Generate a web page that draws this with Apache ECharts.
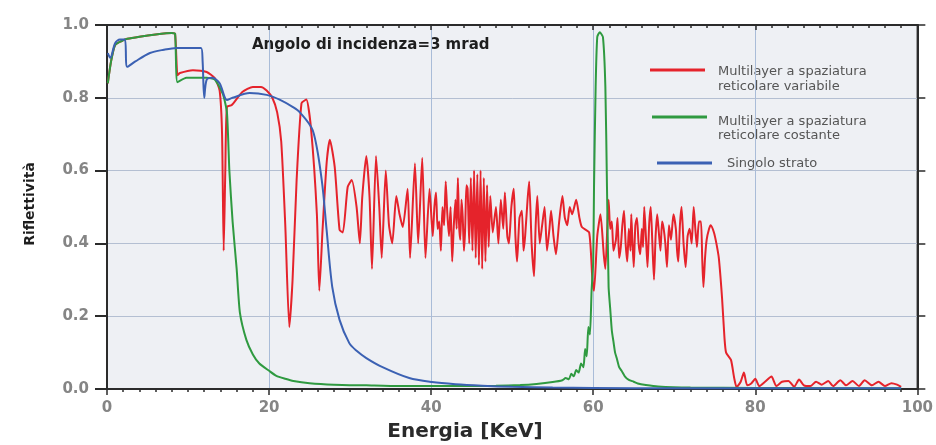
<!DOCTYPE html>
<html>
<head>
<meta charset="utf-8">
<script src="https://cdn.jsdelivr.net/npm/echarts@6/dist/echarts.min.js"></script>
<style>
html,body{margin:0;padding:0;background:#ffffff;}
#c{width:936px;height:445px;}
</style>
</head>
<body>
<div id="c"></div>
<script>
// ---- data ----
var xTicks = [0, 20, 40, 60, 80, 100];
var yTicks = [0.0, 0.2, 0.4, 0.6, 0.8, 1.0];

var redX = [0.1,0.5,1.0,1.8,2.5,4,6,8.0,8.4,8.7,9.0,10.6,12.3,13.3,13.9,14.2,14.4,14.6,14.8,15.4,16.7,18.0,19.0,19.7,20.4,21.0,21.5,22.0,22.5,22.9,23.4,24.0,24.6,25.2,25.9,26.2,26.6,27.1,27.5,28.1,28.7,29.1,29.7,30.2,30.8,31.2,31.5,32.0,32.4,32.7,33.2,33.6,33.9,34.4,34.8,35.2,35.7,36.1,36.5,37.1,37.4,38.0,38.4,38.9,39.3,39.8,40.2,40.4,40.6,40.8,41.0,41.2,41.4,41.6,41.8,42.0,42.2,42.4,42.6,42.8,43.0,43.15,43.3,43.45,43.6,43.75,43.9,44.05,44.2,44.35,44.5,44.7,44.9,45.1,45.3,45.5,45.7,45.9,46.1,46.3,46.5,46.7,46.9,47.1,47.3,47.6,48.0,48.3,48.6,48.9,49.1,49.4,49.6,49.9,50.2,50.4,50.6,50.9,51.2,51.4,51.6,51.9,52.1,52.4,52.7,52.9,53.1,53.4,53.7,54.0,54.3,54.6,54.8,55.1,55.4,55.8,56.2,56.5,56.8,57.1,57.4,57.9,58.3,58.6,59.5,59.9,60.1,60.5,60.9,61.3,61.5,61.9,62.1,62.3,62.5,62.8,63.0,63.2,63.4,63.6,63.8,64.0,64.2,64.4,64.6,64.7,64.85,65.0,65.2,65.4,65.6,65.8,66.0,66.15,66.3,66.5,66.7,66.9,67.1,67.3,67.5,67.7,67.9,68.1,68.3,68.5,68.7,68.9,69.1,69.35,69.6,69.9,70.2,70.35,70.5,70.7,70.9,71.15,71.4,71.65,71.9,72.15,72.4,72.6,72.8,73.05,73.3,73.45,73.6,73.8,74.0,74.3,74.5,74.9,75.2,75.5,75.9,76.2,76.4,77.0,77.4,77.7,78.2,78.6,79.0,79.5,80.0,80.5,81.2,82.0,82.6,83.3,84.1,84.8,85.4,86.0,86.8,87.5,88.2,89.0,89.6,90.5,91.2,92.0,92.8,93.5,94.4,95.2,96.0,96.8,97.5,98.0];
var redY = [0.84,0.90,0.945,0.956,0.962,0.968,0.974,0.978,0.976,0.862,0.868,0.876,0.871,0.854,0.82,0.70,0.38,0.60,0.775,0.78,0.816,0.83,0.83,0.82,0.80,0.76,0.68,0.45,0.17,0.30,0.574,0.785,0.795,0.71,0.48,0.27,0.437,0.62,0.685,0.61,0.437,0.43,0.555,0.574,0.50,0.40,0.527,0.64,0.527,0.33,0.64,0.50,0.36,0.60,0.45,0.40,0.53,0.48,0.445,0.55,0.36,0.62,0.40,0.635,0.36,0.55,0.42,0.50,0.54,0.44,0.46,0.38,0.50,0.45,0.57,0.48,0.42,0.50,0.35,0.45,0.52,0.44,0.58,0.45,0.41,0.52,0.47,0.38,0.44,0.56,0.55,0.40,0.58,0.38,0.60,0.36,0.59,0.34,0.60,0.33,0.58,0.35,0.56,0.39,0.53,0.43,0.50,0.40,0.52,0.44,0.54,0.42,0.40,0.50,0.55,0.42,0.35,0.47,0.49,0.38,0.42,0.52,0.57,0.40,0.31,0.45,0.53,0.40,0.45,0.50,0.38,0.44,0.49,0.42,0.37,0.46,0.53,0.47,0.45,0.50,0.48,0.52,0.47,0.445,0.43,0.30,0.27,0.42,0.48,0.37,0.33,0.52,0.44,0.46,0.38,0.41,0.47,0.36,0.39,0.45,0.49,0.40,0.35,0.44,0.38,0.48,0.40,0.335,0.45,0.47,0.40,0.37,0.44,0.39,0.50,0.42,0.335,0.45,0.50,0.40,0.30,0.42,0.48,0.43,0.38,0.46,0.44,0.40,0.335,0.45,0.41,0.48,0.44,0.38,0.35,0.45,0.50,0.40,0.335,0.42,0.44,0.40,0.50,0.44,0.39,0.46,0.46,0.36,0.28,0.36,0.41,0.44,0.45,0.43,0.40,0.36,0.25,0.14,0.10,0.08,0.03,0.005,0.02,0.045,0.01,0.015,0.028,0.008,0.02,0.034,0.008,0.02,0.022,0.006,0.026,0.01,0.008,0.02,0.012,0.022,0.008,0.024,0.01,0.022,0.008,0.024,0.01,0.02,0.008,0.016,0.012,0.006];

var greenX = [0.1,0.5,1.0,1.8,2.5,4,6,8.0,8.4,8.7,9.8,12.3,13.3,14.3,14.8,15.1,15.5,16.0,16.4,17.2,18.0,18.8,20.0,20.9,22,23,25,28,32,36,40,44,48,51,53,55,56.2,56.6,57.0,57.3,57.6,57.9,58.2,58.5,58.8,59.0,59.2,59.4,59.6,59.8,60.0,60.1,60.3,60.5,60.8,61.2,61.5,61.7,61.9,62.1,62.3,62.5,62.7,62.9,63.2,63.5,63.9,64.4,65.0,65.5,66.5,68,72,80,90,98];
var greenY = [0.84,0.90,0.945,0.956,0.962,0.968,0.974,0.978,0.976,0.843,0.855,0.855,0.85,0.81,0.76,0.60,0.46,0.33,0.21,0.135,0.095,0.07,0.05,0.036,0.028,0.022,0.016,0.012,0.01,0.008,0.008,0.008,0.009,0.011,0.014,0.019,0.024,0.03,0.027,0.042,0.035,0.052,0.045,0.07,0.06,0.11,0.09,0.17,0.15,0.27,0.35,0.555,0.83,0.967,0.98,0.967,0.83,0.555,0.28,0.22,0.16,0.13,0.10,0.085,0.06,0.05,0.035,0.025,0.02,0.015,0.011,0.007,0.004,0.003,0.002,0.002];

var blueX = [0.1,0.4,1.0,1.6,2.2,2.5,3.5,5.3,7.0,8.6,10.0,11.6,11.8,12.0,12.3,13.0,13.9,14.8,15.5,17.6,19.7,21.3,22.9,23.8,25.4,26.5,27.1,27.8,28.7,29.9,30.8,32.0,34.0,37.3,40.1,43,46.3,50,55,60,70,80,90,98];
var blueY = [0.923,0.91,0.95,0.96,0.96,0.885,0.90,0.923,0.932,0.937,0.937,0.937,0.90,0.80,0.85,0.855,0.84,0.794,0.80,0.813,0.808,0.795,0.775,0.76,0.71,0.574,0.437,0.28,0.19,0.126,0.105,0.085,0.06,0.03,0.019,0.013,0.009,0.006,0.004,0.003,0.002,0.002,0.002,0.002];

var legendNames = [["Multilayer a spaziatura","reticolare variabile"],["Multilayer a spaziatura","reticolare costante"],["Singolo strato"]];
var seriesColors = ['#e5232b','#2f9a40','#3b61b3'];

function pairs(xs, ys){ var o=[]; for(var i=0;i<xs.length;i++){o.push([xs[i],ys[i]]);} return o; }

var chart = echarts.init(document.getElementById('c'), null, {renderer:'canvas'});
var FONT = 'DejaVu Sans';
var axisDark = '#2b2b2b';

var option = {
  backgroundColor: '#ffffff',
  animation: false,
  grid: {left:107, right:18, top:25, bottom:56, show:true, backgroundColor:'#eef0f4', borderColor:axisDark, borderWidth:1.5},
  xAxis: [{
    type:'value', min:0, max:100, interval:20, position:'bottom',
    axisLine:{show:true, onZero:false, lineStyle:{color:axisDark, width:2}},
    axisTick:{show:true, length:6, lineStyle:{color:axisDark, width:1.5}},
    minorTick:{show:true, splitNumber:10, length:3, lineStyle:{color:axisDark, width:1.5}},
    axisLabel:{color:'#858585', fontFamily:FONT, fontWeight:'bold', fontSize:15, margin:12,
      formatter:function(v){ return xTicks.indexOf(v)>=0 ? String(v) : ''; }},
    splitLine:{show:true, lineStyle:{color:'#a9bcd8', width:1}}
  },{
    type:'value', min:0, max:100, interval:20, position:'top',
    axisLine:{show:true, onZero:false, lineStyle:{color:axisDark, width:2}},
    axisTick:{show:true, length:5, inside:true, lineStyle:{color:axisDark, width:1.5}},
    minorTick:{show:true, splitNumber:10, length:3, lineStyle:{color:axisDark, width:1.5}},
    axisLabel:{show:false}, splitLine:{show:false}
  }],
  yAxis: [{
    type:'value', min:0, max:1, interval:0.2, position:'left',
    axisLine:{show:true, onZero:false, lineStyle:{color:axisDark, width:2}},
    axisTick:{show:true, length:12, lineStyle:{color:axisDark, width:2}},
    axisLabel:{color:'#858585', fontFamily:FONT, fontWeight:'bold', fontSize:15, margin:18,
      formatter:function(v){ return v.toFixed(1); }},
    splitLine:{show:true, lineStyle:{color:'#b4bfd2', width:1}}
  },{
    type:'value', min:0, max:1, interval:0.2, position:'right',
    axisLine:{show:true, onZero:false, lineStyle:{color:axisDark, width:2}},
    axisTick:{show:true, length:8, lineStyle:{color:axisDark, width:1.5}},
    axisLabel:{show:false}, splitLine:{show:false}
  }],
  series: [
    {name:'red', type:'line', data:pairs(redX, redY), showSymbol:false, smooth:0.2, lineStyle:{color:seriesColors[0], width:2}, z:2},
    {name:'green', type:'line', data:pairs(greenX, greenY), showSymbol:false, smooth:0.2, lineStyle:{color:seriesColors[1], width:2}, z:3},
    {name:'blue', type:'line', data:pairs(blueX, blueY), showSymbol:false, smooth:0.3, lineStyle:{color:seriesColors[2], width:2}, z:4}
  ],
  graphic: [
    {type:'text', left:252, top:38, style:{text:'Angolo di incidenza=3 mrad', fill:'#1e1e1e', font:'bold 15px "DejaVu Sans"'}},
    {type:'text', x:465, y:432, style:{text:'Energia [KeV]', fill:'#2a2a2a', font:'bold 20px "DejaVu Sans"', textAlign:'center', textVerticalAlign:'middle'}},
    {type:'text', x:30, y:204, rotation:Math.PI/2, style:{text:'Riflettività', fill:'#1e1e1e', font:'bold 14px "DejaVu Sans"', textAlign:'center', textVerticalAlign:'middle'}},
    {type:'line', shape:{x1:650, y1:70, x2:705, y2:70}, style:{stroke:seriesColors[0], lineWidth:3}},
    {type:'text', x:718, y:72, style:{text:legendNames[0][0], fill:'#555', font:'13px "DejaVu Sans"', textVerticalAlign:'middle'}},
    {type:'text', x:718, y:87, style:{text:legendNames[0][1], fill:'#555', font:'13px "DejaVu Sans"', textVerticalAlign:'middle'}},
    {type:'line', shape:{x1:652, y1:117, x2:707, y2:117}, style:{stroke:seriesColors[1], lineWidth:3}},
    {type:'text', x:718, y:122, style:{text:legendNames[1][0], fill:'#555', font:'13px "DejaVu Sans"', textVerticalAlign:'middle'}},
    {type:'text', x:718, y:136, style:{text:legendNames[1][1], fill:'#555', font:'13px "DejaVu Sans"', textVerticalAlign:'middle'}},
    {type:'line', shape:{x1:657, y1:163, x2:712, y2:163}, style:{stroke:seriesColors[2], lineWidth:3}},
    {type:'text', x:727, y:164, style:{text:legendNames[2][0], fill:'#555', font:'13px "DejaVu Sans"', textVerticalAlign:'middle'}}
  ]
};
chart.setOption(option);
</script>
</body>
</html>
